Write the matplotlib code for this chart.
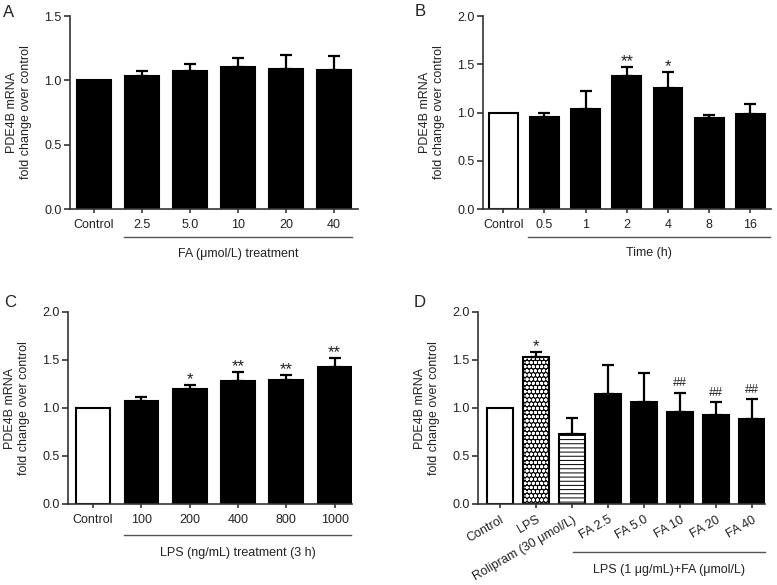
import numpy as np
import matplotlib.pyplot as plt
from matplotlib.ticker import FormatStrFormatter

plt.rcParams['font.family'] = ['Liberation Sans', 'DejaVu Sans']
plt.rcParams['font.size'] = 9
plt.rcParams['text.color'] = '#222222'
plt.rcParams['axes.labelcolor'] = '#222222'
plt.rcParams['xtick.color'] = '#333333'
plt.rcParams['ytick.color'] = '#333333'
plt.rcParams['xtick.labelcolor'] = '#222222'
plt.rcParams['ytick.labelcolor'] = '#222222'

# panel A: FA dose
a_labels = ['Control', '2.5', '5.0', '10', '20', '40']
a_means = [1.00, 1.03, 1.07, 1.10, 1.09, 1.08]
a_err = [0.0, 0.04, 0.06, 0.07, 0.11, 0.11]
a_sig = ['', '', '', '', '', '']

# panel B: time course
b_labels = ['Control', '0.5', '1', '2', '4', '8', '16']
b_means = [1.00, 0.95, 1.04, 1.38, 1.25, 0.94, 0.98]
b_err = [0.0, 0.05, 0.18, 0.09, 0.17, 0.03, 0.11]
b_sig = ['', '', '', '**', '*', '', '']

# panel C: LPS dose
c_labels = ['Control', '100', '200', '400', '800', '1000']
c_means = [1.00, 1.07, 1.20, 1.28, 1.29, 1.43]
c_err = [0.0, 0.04, 0.04, 0.09, 0.05, 0.09]
c_sig = ['', '', '*', '**', '**', '**']

# panel D: LPS + FA
d_labels = ['Control', 'LPS', 'Rolipram (30 μmol/L)', 'FA 2.5', 'FA 5.0',
            'FA 10', 'FA 20', 'FA 40']
d_means = [1.00, 1.53, 0.73, 1.15, 1.06, 0.96, 0.93, 0.89]
d_err = [0.0, 0.05, 0.17, 0.30, 0.30, 0.20, 0.13, 0.20]
d_sig = ['', '*', '', '', '', '##', '##', '##']

W, H = 777, 585
fig = plt.figure(figsize=(W / 100, H / 100), dpi=100)


def px_axes(left, top, right, bottom):
    return fig.add_axes([left / W, 1 - bottom / H, (right - left) / W, (bottom - top) / H])


def style_axes(ax, labels, ymax, xlim):
    for s in ['top', 'right']:
        ax.spines[s].set_visible(False)
    for s in ['left', 'bottom']:
        ax.spines[s].set_color('#333333')
        ax.spines[s].set_linewidth(1.2)
    ax.set_ylim(0, ymax)
    ax.set_xlim(*xlim)
    ax.set_yticks(np.arange(0, ymax + 0.01, 0.5))
    ax.yaxis.set_major_formatter(FormatStrFormatter('%.1f'))
    ax.set_xticks(range(len(labels)))
    ax.set_xticklabels(labels)
    ax.tick_params(axis='y', length=4, width=1.2, pad=2)
    ax.tick_params(axis='x', length=3, width=1.2, pad=4)
    ax.set_ylabel('PDE4B mRNA\nfold change over control', labelpad=9)


def draw_bars(ax, means, err, sig, white_first):
    x = np.arange(len(means))
    colors = ['black'] * len(means)
    if white_first:
        colors[0] = 'white'
    ax.bar(x, means, 0.7, color=colors, edgecolor='black', linewidth=1.5, zorder=2)
    add_err(ax, means, err, sig)


def add_err(ax, means, err, sig):
    means = np.array(means)
    err = np.array(err)
    m = err > 0
    x = np.arange(len(means))
    ax.errorbar(x[m], means[m], yerr=[np.zeros(m.sum()), err[m]], fmt='none',
                ecolor='black', elinewidth=1.6, capsize=4.5, capthick=1.6, zorder=3)
    for i, s in enumerate(sig):
        if not s:
            continue
        if s.startswith('#'):
            ax.annotate(s, xy=(i, means[i] + err[i]), xytext=(0, 2.5),
                        textcoords='offset points', ha='center', va='bottom',
                        fontsize=9)
        else:
            ax.annotate(s, xy=(i, means[i] + err[i]), xytext=(0, -1.5),
                        textcoords='offset points', ha='center', va='bottom',
                        fontsize=12)


def bracket(ax, x0, x1, y, ty, text):
    tr = ax.get_xaxis_transform()
    ax.plot([x0, x1], [y, y], transform=tr, clip_on=False, color='#555555', lw=1)
    ax.text((x0 + x1) / 2, ty, text, transform=tr, ha='center', va='center')


# A
ax = px_axes(70, 16, 358, 209)
draw_bars(ax, a_means, a_err, a_sig, False)
style_axes(ax, a_labels, 1.5, (-0.5, 5.5))
bracket(ax, 0.62, 5.38, -0.145, -0.235, 'FA (μmol/L) treatment')

# B
ax = px_axes(483, 16, 771, 209)
draw_bars(ax, b_means, b_err, b_sig, True)
style_axes(ax, b_labels, 2.0, (-0.49, 6.5))
bracket(ax, 0.6, 6.48, -0.145, -0.23, 'Time (h)')

# C
ax = px_axes(68, 312, 352, 504)
draw_bars(ax, c_means, c_err, c_sig, True)
style_axes(ax, c_labels, 2.0, (-0.52, 5.36))
bracket(ax, 0.64, 5.34, -0.16, -0.255, 'LPS (ng/mL) treatment (3 h)')

# D
ax = px_axes(478, 312, 765, 504)
xd = np.arange(len(d_means))
ax.bar(xd[0], d_means[0], 0.7, color='white', edgecolor='black', linewidth=1.5, zorder=2)
plt.rcParams['hatch.linewidth'] = 1.0
ax.bar(xd[1], d_means[1], 0.7, color='black', edgecolor='white', hatch='oooo',
       linewidth=0, zorder=2)
ax.bar(xd[1], d_means[1], 0.7, fill=False, edgecolor='black', linewidth=1.5, zorder=2)
plt.rcParams['hatch.linewidth'] = 0.7
ax.bar(xd[2], d_means[2], 0.7, color='white', edgecolor='black', hatch='----',
       linewidth=1.5, zorder=2)
ax.bar(xd[3:], d_means[3:], 0.7, color='black', edgecolor='black', linewidth=1.5, zorder=2)
add_err(ax, d_means, d_err, d_sig)
style_axes(ax, d_labels, 2.0, (-0.61, 7.36))
for t in ax.get_xticklabels():
    t.set_rotation(30)
    t.set_ha('right')
    t.set_rotation_mode('anchor')
bracket(ax, 2.03, 7.36, -0.25, -0.345, 'LPS (1 μg/mL)+FA (μmol/L)')

# panel letters
for lx, ly, letter in [(3, 5, 'A'), (415, 4, 'B'), (4, 295, 'C'), (414, 295, 'D')]:
    fig.text(lx / W, 1 - ly / H, letter, fontsize=12, ha='left', va='top')

fig.savefig('out.png', dpi=100)
